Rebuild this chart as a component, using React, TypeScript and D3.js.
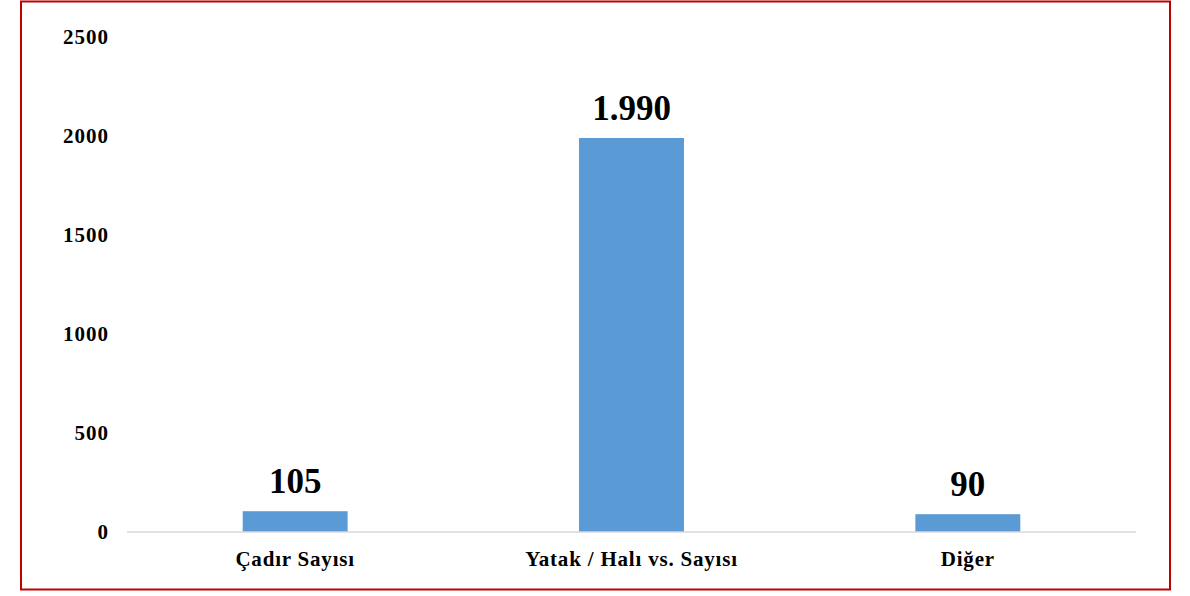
import React from "react";
import * as d3 from "d3";

const categories = ["Çadır Sayısı", "Yatak / Halı vs. Sayısı", "Diğer"];
const values = [105, 1990, 90];
const valueLabels = ["105", "1.990", "90"];
const yTicks = [0, 500, 1000, 1500, 2000, 2500];

export default function App() {
  const W = 1190;
  const H = 596;
  const x = d3
    .scaleBand<string>()
    .domain(categories)
    .range([127, 1136])
    .paddingInner(0.688)
    .paddingOuter(0.344);
  const y = d3.scaleLinear().domain([0, 2500]).range([532, 37]);
  const font = "'Liberation Serif', 'Times New Roman', serif";

  return (
    <svg
      width={W}
      height={H}
      style={{ position: "absolute", left: 0, top: 0, background: "#fff" }}
    >
      <rect x={0} y={0} width={W} height={H} fill="#fff" />
      <rect x={21} y={1.5} width={1149} height={588} fill="none" stroke="#c00000" strokeWidth={2} />
      {yTicks.map((t) => (
        <text
          key={t}
          x={109}
          y={y(t)}
          dy="0.35em"
          textAnchor="end"
          fontFamily={font}
          fontWeight="bold"
          fontSize={21}
          letterSpacing={1}
          fill="#000"
        >
          {t}
        </text>
      ))}
      {categories.map((c, i) => (
        <rect
          key={c}
          x={x(c)}
          y={y(values[i])}
          width={x.bandwidth()}
          height={y(0) - y(values[i])}
          fill="#5b9bd5"
        />
      ))}
      <line x1={127} x2={1136} y1={y(0)} y2={y(0)} stroke="#d9d9d9" strokeWidth={1.5} />
      {categories.map((c, i) => (
        <text
          key={"v" + c}
          x={(x(c) as number) + x.bandwidth() / 2}
          y={y(values[i]) - 18}
          textAnchor="middle"
          fontFamily={font}
          fontWeight="bold"
          fontSize={35}
          fill="#000"
        >
          {valueLabels[i]}
        </text>
      ))}
      {categories.map((c) => (
        <text
          key={"c" + c}
          x={(x(c) as number) + x.bandwidth() / 2}
          y={566}
          textAnchor="middle"
          fontFamily={font}
          fontWeight="bold"
          fontSize={21}
          letterSpacing={0.8}
          fill="#000"
        >
          {c}
        </text>
      ))}
    </svg>
  );
}
